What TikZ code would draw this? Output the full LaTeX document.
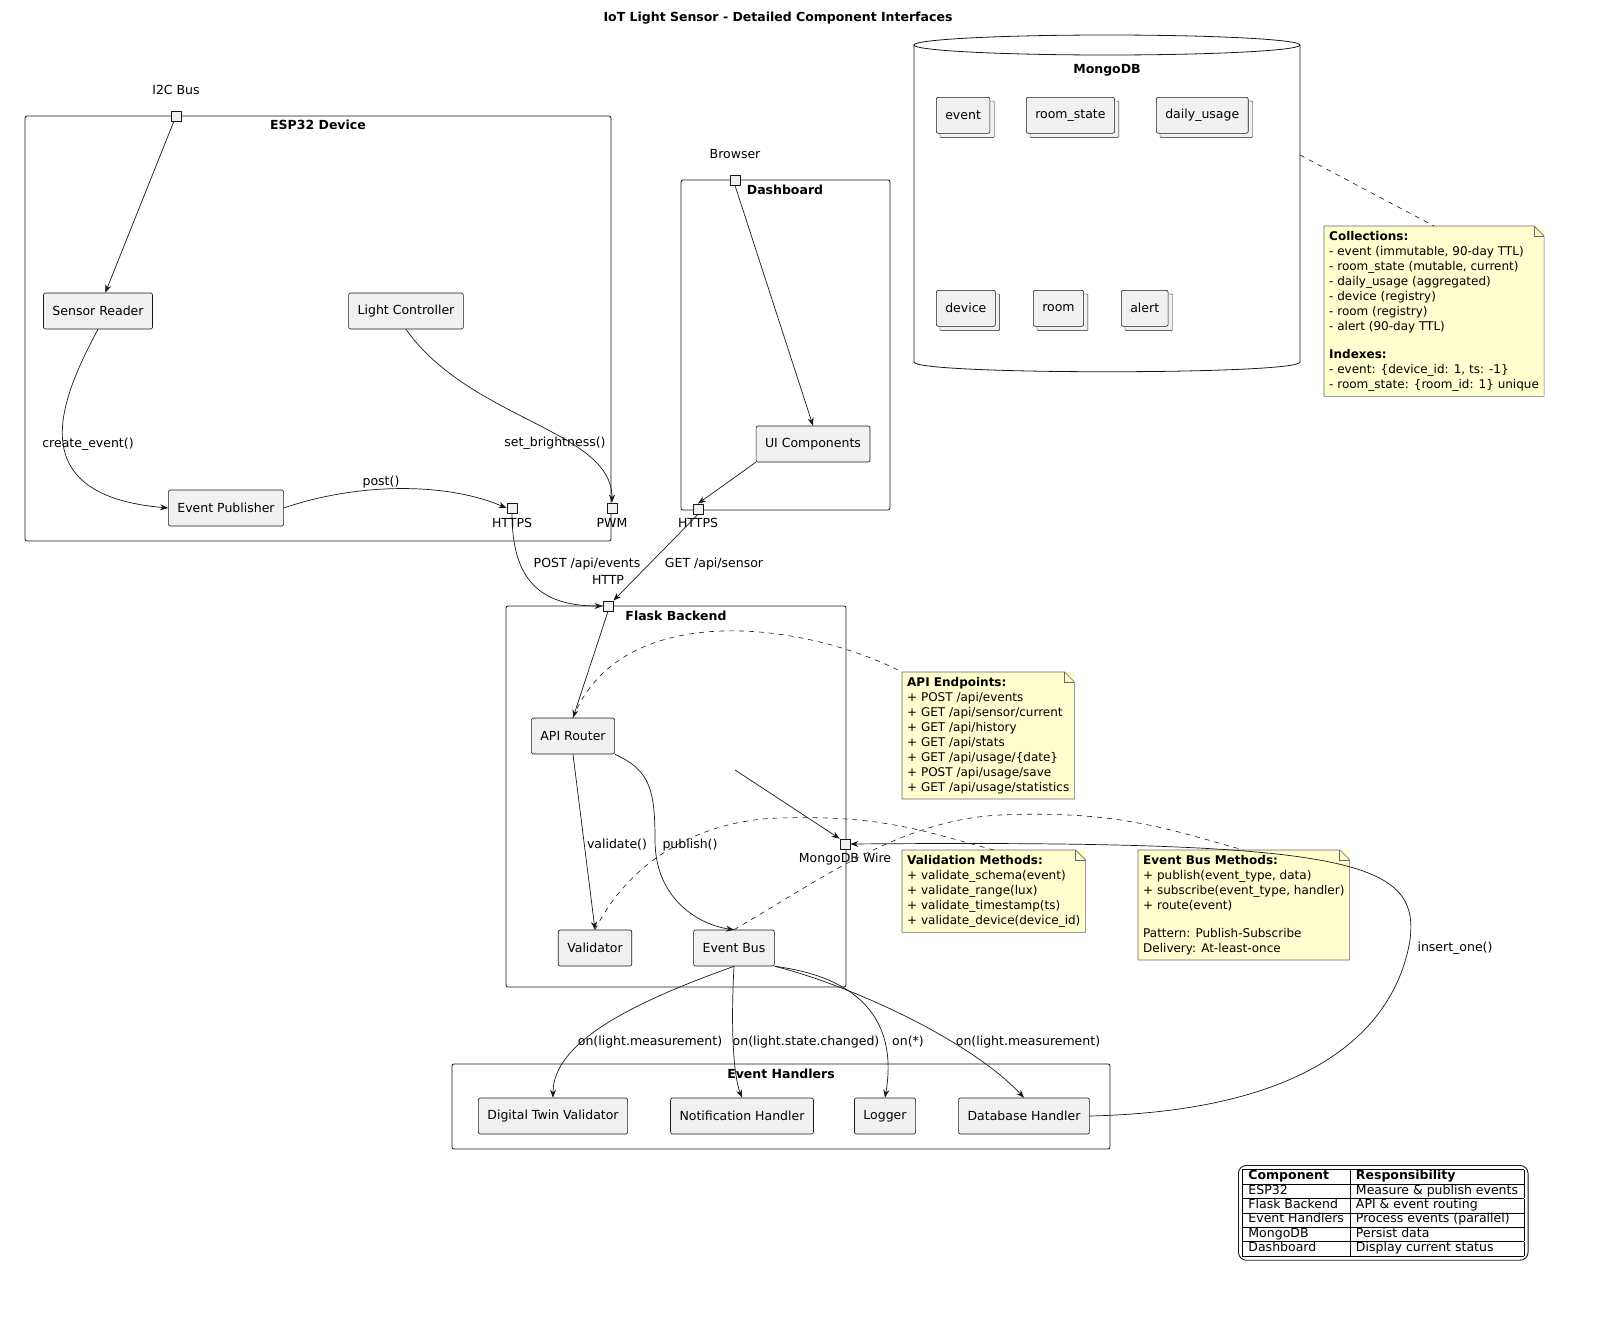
\documentclass[tikz,border=0pt]{standalone}
\usepackage{fontspec}
\setmainfont{DejaVu Sans}
\usetikzlibrary{arrows.meta}
\newcommand{\mynote}[3]{%
  \node[notebg,anchor=north west] (#1) at #2 {#3};%
  \draw[notec] (#1.north west) -- ([xshift=-10pt]#1.north east) -- ([yshift=-10pt]#1.north east) -- (#1.south east) -- (#1.south west) -- cycle;%
  \draw[notec] ([xshift=-10pt]#1.north east) -- ([xshift=-10pt,yshift=-10pt]#1.north east) -- ([yshift=-10pt]#1.north east);}
\newcommand{\mystack}[3]{%
  \node[box,anchor=north west,fill=none,draw=none] (#1) at #2 {#3};%
  \draw[fill=boxc,draw=linec,rounded corners=1pt] ([xshift=4pt,yshift=-4pt]#1.north west) rectangle ([xshift=4pt,yshift=-4pt]#1.south east);%
  \node[box,anchor=north west] at #2 {#3};}
\definecolor{boxc}{HTML}{F1F1F1}
\definecolor{linec}{HTML}{181818}
\definecolor{notey}{HTML}{FEFECE}
\begin{document}
\begin{tikzpicture}[x=1pt,y=-1pt,font=\fontsize{12.5}{15}\selectfont,
  box/.style={draw=linec,fill=boxc,rounded corners=2pt,minimum height=36pt,inner xsep=9pt,line width=0.6pt},
  frame/.style={draw=linec,rounded corners=2pt,line width=0.8pt},
  flbl/.style={font=\fontsize{12.5}{15}\selectfont\bfseries},
  port/.style={draw=linec,fill=boxc,minimum size=10pt,inner sep=0pt,line width=0.8pt},
  arr/.style={-{Stealth[length=8pt,width=6pt]},draw=linec,line width=0.7pt},
  lbl/.style={fill=none,inner sep=1pt},
  notebg/.style={fill=notey,inner sep=5pt,align=left,font=\fontsize{12}{15}\selectfont},
  notec/.style={draw=gray!80!black,line width=0.6pt},
  dashl/.style={draw=linec,dash pattern=on 5pt off 5pt,line width=0.6pt}]
\useasboundingbox (0,0) rectangle (1618,1333);
\node[font=\fontsize{12.5}{15}\selectfont\bfseries] (title) at (778,18) {IoT Light Sensor - Detailed Component Interfaces};

% ESP32
\draw[frame] (25,116) rectangle (611,541);
\node[flbl] (esplbl) at (318,125) {ESP32 Device};
\node[port] (i2c) at (176,116) {};
\node (i2clbl) at (176,90) {I2C Bus};
\node[box] (sr) at (98,311) {Sensor Reader};
\node[box] (lc) at (406,311) {Light Controller};
\node[box] (ep) at (226,508) {Event Publisher};
\node[port] (https1) at (512,508) {};
\node (https1l) at (512,523) {HTTPS};
\node[port] (pwm) at (612,508) {};
\node (pwml) at (612,523) {PWM};

% Dashboard
\draw[frame] (681,180) rectangle (890,510);
\node[flbl] (dashlbl) at (785,190) {Dashboard};
\node[port] (browser) at (735,180) {};
\node (browl) at (735,154) {Browser};
\node[box] (ui) at (813,444) {UI Components};
\node[port] (https2) at (698,509) {};
\node (https2l) at (698,523) {HTTPS};

% MongoDB
\draw[draw=linec,line width=0.8pt] (914,45) -- (914,362) .. controls (914,375) and (1300,375) .. (1300,362) -- (1300,45);
\draw[draw=linec,line width=0.8pt] (1107,45) ellipse (193pt and 10pt);
\node[flbl] (mdb) at (1107,70) {MongoDB};
\mystack{c1}{(936,97)}{event}
\mystack{c2}{(1026,97)}{room\_state}
\mystack{c3}{(1156,97)}{daily\_usage}
\mystack{c4}{(936,290)}{device}
\mystack{c5}{(1033,290)}{room}
\mystack{c6}{(1121,290)}{alert}
\mynote{ncol}{(1324,226)}{\textbf{Collections:}\\- event (immutable, 90-day TTL)\\- room\_state (mutable, current)\\- daily\_usage (aggregated)\\- device (registry)\\- room (registry)\\- alert (90-day TTL)\\[13pt]\textbf{Indexes:}\\- event: \{device\_id: 1, ts: -1\}\\- room\_state: \{room\_id: 1\} unique}
\coordinate (mdbr) at (1300,155);
\draw[dashl] (mdbr) -- (ncol.north);

% Flask
\draw[frame] (506,606) rectangle (846,987);
\node[flbl] (flbl) at (676,616) {Flask Backend};
\node[port] (http) at (608,606) {};
\node (httpl) at (608,580) {HTTP};
\node[box] (api) at (573,736) {API Router};
\node[port] (mw) at (845,844) {};
\node (mwl) at (845,859) {MongoDB Wire};
\node[box] (val) at (595,948) {Validator};
\node[box] (eb) at (734,948) {Event Bus};
\coordinate (free) at (735,770);
\mynote{napi}{(902,672)}{\textbf{API Endpoints:}\\+ POST /api/events\\+ GET /api/sensor/current\\+ GET /api/history\\+ GET /api/stats\\+ GET /api/usage/\{date\}\\+ POST /api/usage/save\\+ GET /api/usage/statistics}
\mynote{nval}{(902,850)}{\textbf{Validation Methods:}\\+ validate\_schema(event)\\+ validate\_range(lux)\\+ validate\_timestamp(ts)\\+ validate\_device(device\_id)}
\mynote{neb}{(1138,850)}{\textbf{Event Bus Methods:}\\+ publish(event\_type, data)\\+ subscribe(event\_type, handler)\\+ route(event)\\[13pt]Pattern: Publish-Subscribe\\Delivery: At-least-once}

% Handlers
\draw[frame] (452,1064) rectangle (1110,1149);
\node[flbl] (hlbl) at (781,1074) {Event Handlers};
\node[box] (dtv) at (553,1116) {Digital Twin Validator};
\node[box] (nh) at (742,1116) {Notification Handler};
\node[box] (lg) at (885,1116) {Logger};
\node[box] (dbh) at (1024,1116) {Database Handler};

% Legend
\node[draw=linec,rounded corners=8pt,line width=0.9pt,inner sep=4pt,anchor=north west,font=\fontsize{12.5}{14}\selectfont] (legend) at (1238,1165) {\begin{tabular}{|l|l|}\hline
\textbf{Component} & \textbf{Responsibility}\\\hline
ESP32 & Measure \& publish events\\\hline
Flask Backend & API \& event routing\\\hline
Event Handlers & Process events (parallel)\\\hline
MongoDB & Persist data\\\hline
Dashboard & Display current status\\\hline\end{tabular}};

% connectors
\draw[arr] (i2c) -- (sr);
\draw[arr] (sr.south) .. controls (60,400) and (20,495) .. (ep.west);
\node[lbl] (l1) at (88,444) {create\_event()};
\draw[arr] (lc.south) .. controls (470,420) and (612,430) .. (pwm.north);
\node[lbl] (l2) at (555,443) {set\_brightness()};
\draw[arr] (ep.east) .. controls (350,485) and (440,480) .. (https1.west);
\node[lbl] (l3) at (381,482) {post()};
\draw[arr] (https1.south) .. controls (512,580) and (540,606) .. (http.west);
\node[lbl] (l4) at (587,564) {POST /api/events};
\draw[arr] (browser.south) -- (ui.north);
\draw[arr] (ui.south west) -- (https2.north);
\draw[arr] (https2.south) -- (http.north east);
\node[lbl] (l5) at (714,564) {GET /api/sensor};
\draw[arr] (http.south) -- (api.north);
\draw[arr] (api.south) -- (val.north);
\node[lbl] (l6) at (617,845) {validate()};
\draw[arr] (api.south east) .. controls (650,770) and (655,790) .. (655,840) .. controls (655,900) and (700,925) .. (eb.north);
\node[lbl] (l7) at (690,845) {publish()};
\draw[arr] (free) -- (mw.north west);
\draw[arr] (eb.south) .. controls (640,1000) and (553,1040) .. (dtv.north);
\node[lbl] (l8) at (650,1042) {on(light.measurement)};
\draw[arr] (eb.south) .. controls (730,1040) and (735,1080) .. (nh.north);
\node[lbl] (l9) at (806,1042) {on(light.state.changed)};
\draw[arr] (eb.south east) .. controls (880,980) and (895,1040) .. (lg.north);
\node[lbl] (l10) at (908,1042) {on(*)};
\draw[arr] (eb.south east) .. controls (850,985) and (970,1040) .. (dbh.north);
\node[lbl] (l11) at (1028,1042) {on(light.measurement)};
\draw[arr] (dbh.east) .. controls (1350,1110) and (1400,1000) .. (1410,940) .. controls (1420,860) and (1350,840) .. (mw.east);
\node[lbl] (l12) at (1455,948) {insert\_one()};
\draw[dashl] (api.north) .. controls (620,600) and (800,620) .. (napi.north west);
\draw[dashl] (val.north) .. controls (630,860) and (700,820) .. (780,818) .. controls (880,815) and (920,830) .. (nval.north);
\draw[dashl] (eb.north) .. controls (820,880) and (900,820) .. (1000,815) .. controls (1120,810) and (1170,830) .. (neb.north);
\end{tikzpicture}
\end{document}
